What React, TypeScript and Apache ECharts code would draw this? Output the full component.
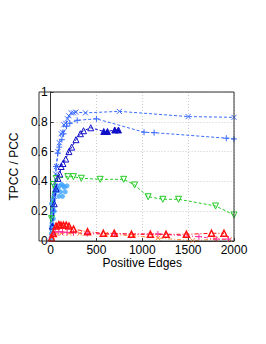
import React, { useEffect, useRef } from "react";
import * as echarts from "echarts";

// blue "x" series
const xcrossX = [40, 55, 65, 80, 95, 115, 130, 145, 165, 185, 200, 225, 250, 275, 380, 750, 1500, 2000];
const xcrossY = [0.3, 0.45, 0.5, 0.6, 0.66, 0.72, 0.73, 0.78, 0.79, 0.82, 0.84, 0.86, 0.86, 0.865, 0.86, 0.87, 0.835, 0.83];
// blue "+" series
const plusX = [30, 45, 60, 79, 95, 123, 141, 174, 210, 290, 500, 1019, 1129, 1916, 2000];
const plusY = [0.2, 0.38, 0.5, 0.59, 0.63, 0.68, 0.72, 0.77, 0.79, 0.81, 0.82, 0.73, 0.727, 0.69, 0.685];
// dark blue triangles
const triX = [20, 40, 60, 80, 100, 115, 135, 165, 200, 230, 277, 325, 359, 438, 580, 620, 700, 740];
const triY = [0.1, 0.25, 0.35, 0.42, 0.45, 0.5, 0.52, 0.55, 0.6, 0.63, 0.68, 0.72, 0.74, 0.76, 0.735, 0.735, 0.745, 0.745];
const triFilled = [0, 0, 0, 0, 0, 0, 0, 0, 0, 0, 0, 0, 0, 0, 1, 1, 1, 1];
// green inverted triangles
const greenX = [10, 30, 62, 188, 249, 335, 541, 797, 916, 1064, 1224, 1395, 1799, 2000];
const greenY = [0.15, 0.38, 0.42, 0.432, 0.432, 0.421, 0.414, 0.414, 0.376, 0.297, 0.28, 0.28, 0.235, 0.175];
// light blue cluster
const lightX = [5, 8, 10, 12, 15, 18, 20, 22, 25, 28, 30, 35, 40, 45, 50, 60, 70, 80, 90, 100, 110, 120, 130, 140, 150, 160, 180, 20, 30, 15, 25, 40, 10];
const lightY = [0.02, 0.05, 0.08, 0.1, 0.12, 0.15, 0.18, 0.2, 0.22, 0.25, 0.27, 0.3, 0.32, 0.33, 0.35, 0.36, 0.34, 0.35, 0.3, 0.37, 0.33, 0.38, 0.3, 0.37, 0.36, 0.33, 0.37, 0.1, 0.15, 0.05, 0.28, 0.2, 0.25];
// red triangles
const redX = [10, 30, 60, 90, 113, 140, 170, 200, 250, 403, 575, 694, 882, 1088, 1259, 1481, 1755, 1891];
const redY = [0.02, 0.05, 0.1, 0.11, 0.107, 0.107, 0.107, 0.1, 0.08, 0.062, 0.052, 0.052, 0.045, 0.045, 0.045, 0.045, 0.052, 0.052];
// magenta plus
const magX = [20, 50, 90, 130, 180, 250, 400, 700, 1170, 1618, 1806, 1940];
const magY = [0.04, 0.06, 0.062, 0.06, 0.058, 0.055, 0.05, 0.048, 0.047, 0.029, 0.013, 0.013];
// orange x
const orX = [20, 60, 120, 200, 318, 600, 900, 1170, 1549, 1800, 1950];
const orY = [0.03, 0.05, 0.052, 0.052, 0.052, 0.045, 0.035, 0.02, 0.002, 0.012, 0.01];

const xTicks = [0, 500, 1000, 1500, 2000];
const yTicks = [0, 0.2, 0.4, 0.6, 0.8, 1];

const CROSS = "path://M0,0L10,10M10,0L0,10";
const PLUS = "path://M5,0L5,10M0,5L10,5";

function zip(xs: number[], ys: number[]) {
  return xs.map((x, i) => [x, ys[i]]);
}

export default function App() {
  const ref = useRef<HTMLDivElement>(null);
  useEffect(() => {
    const chart = echarts.init(ref.current!, null, { renderer: "svg" });
    const font = "Liberation Sans";
    const lineSeries = (
      data: any[],
      color: string,
      symbol: string,
      size: number,
      opts: any = {}
    ) => ({
      type: "line",
      data,
      symbol,
      symbolSize: size,
      showSymbol: true,
      lineStyle: { color, width: 1, type: opts.lineType || [3, 2] },
      itemStyle: {
        color: opts.fill || "none",
        borderColor: color,
        borderWidth: opts.bw || 1,
      },
      symbolRotate: opts.rotate || 0,
      z: opts.z || 2,
    });
    chart.setOption({
      animation: false,
      grid: { left: 39, top: 92, width: 195, height: 149 },
      xAxis: {
        type: "value",
        min: 0,
        max: 2000,
        interval: 500,
        name: "Positive Edges",
        nameLocation: "middle",
        nameGap: 11,
        nameTextStyle: { fontFamily: font, fontSize: 12, color: "#000" },
        axisLine: { show: true, lineStyle: { color: "#333", width: 1 } },
        axisTick: { show: true, inside: true, length: 3, lineStyle: { color: "#333" } },
        axisLabel: {
          margin: 3,
          fontFamily: font,
          fontSize: 12,
          color: "#000",
          formatter: (v: number) => (xTicks.includes(v) ? String(v) : ""),
        },
        splitLine: { show: true, lineStyle: { color: "#ccc", type: [1, 2], width: 1 } },
      },
      yAxis: {
        type: "value",
        min: 0,
        max: 1,
        interval: 0.2,
        name: "TPCC / PCC",
        nameLocation: "middle",
        nameGap: 25,
        nameTextStyle: { fontFamily: font, fontSize: 12, color: "#000" },
        axisLine: { show: true, lineStyle: { color: "#333", width: 1 } },
        axisTick: { show: true, inside: true, length: 3, lineStyle: { color: "#333" } },
        axisLabel: {
          margin: 3,
          fontFamily: font,
          fontSize: 12,
          color: "#000",
          formatter: (v: number) => {
            const t = yTicks.find((y) => Math.abs(y - v) < 1e-6);
            return t === undefined ? "" : String(Math.round(t * 10) / 10);
          },
        },
        splitLine: { show: true, lineStyle: { color: "#ccc", type: [1, 2], width: 1 } },
      },
      graphic: [
        {
          type: "rect",
          shape: { x: 39, y: 92, width: 195, height: 149 },
          style: { fill: "none", stroke: "#333", lineWidth: 1 },
          silent: true,
          z: 10,
        },
      ],
      series: [
        {
          type: "scatter",
          data: zip(lightX, lightY),
          symbol: "circle",
          symbolSize: 5,
          itemStyle: { color: "#3fa4ff" },
          z: 1,
        },
        lineSeries(zip(xcrossX, xcrossY), "#3a6bff", CROSS, 5),
        lineSeries(zip(plusX, plusY), "#3a6bff", PLUS, 6),
        {
          ...lineSeries(
            triX.map((x, i) =>
              triFilled[i]
                ? { value: [x, triY[i]], itemStyle: { color: "#1010c8" } }
                : [x, triY[i]]
            ),
            "#1010c8",
            "triangle",
            6
          ),
          z: 3,
        },
        lineSeries(zip(greenX, greenY), "#22cc22", "triangle", 6, { rotate: 180 }),
        lineSeries(zip(orX, orY), "#ff8c3a", CROSS, 5, { lineType: [4, 2, 1, 2] }),
        lineSeries(zip(magX, magY), "#ff2a9a", PLUS, 6, { lineType: [4, 2, 1, 2] }),
        lineSeries(zip(redX, redY), "#ff1010", "triangle", 6, { lineType: [4, 2, 1, 2], z: 3, bw: 1.5 }),
      ],
    });
    return () => chart.dispose();
  }, []);
  return (
    <div
      ref={ref}
      style={{ position: "fixed", left: 0, top: 0, width: 266, height: 344, background: "#fff" }}
    />
  );
}
